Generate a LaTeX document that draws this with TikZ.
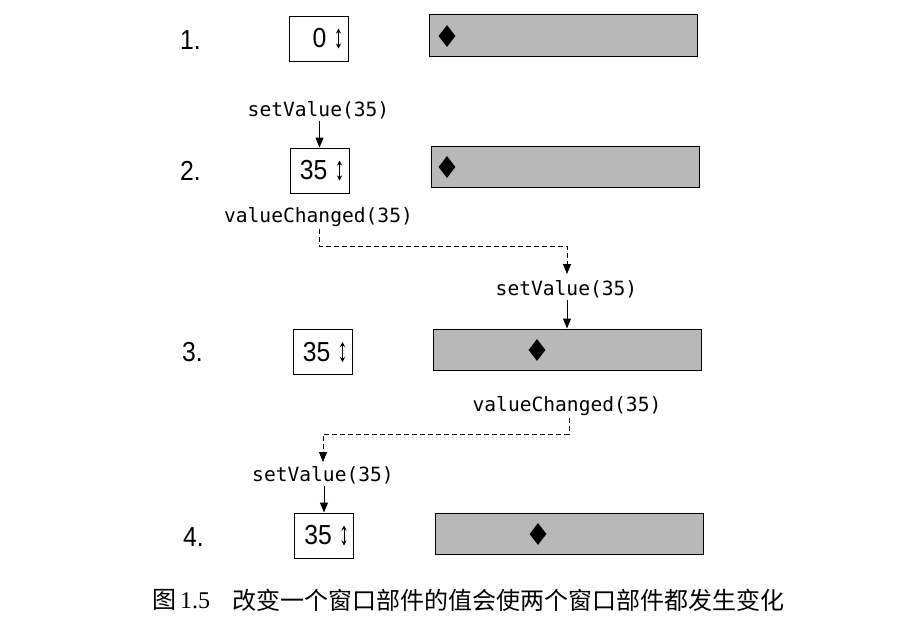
\documentclass[tikz,border=0pt]{standalone}
\usepackage{fontspec}
\setmainfont{Liberation Sans}
\setmonofont{DejaVu Sans Mono}
\newfontfamily\numfont[FakeStretch=0.9]{Liberation Sans}
\newfontfamily\cjk{Noto Sans CJK SC}
\newfontfamily\serifnum{Liberation Serif}
\usetikzlibrary{arrows.meta,shapes.geometric}
\begin{document}
\begin{tikzpicture}[x=1pt,y=-1pt,
  spin/.style={draw, line width=1pt, minimum width=59pt, minimum height=45pt, inner sep=0, fill=white},
  slider/.style={draw, line width=1pt, fill=black!28, minimum width=268pt, minimum height=41pt, inner sep=0},
  knob/.style={diamond, fill=black, inner sep=0, minimum width=17pt, minimum height=22pt},
  num/.style={font=\numfont\fontsize{27.5}{27.5}\selectfont, inner sep=0},
  msg/.style={font=\ttfamily\fontsize{19.6}{20}\selectfont, inner sep=2pt},
  arr/.style={line width=1pt, -{Triangle[length=10pt,width=8pt]}},
  darr/.style={arr, dash pattern=on 5pt off 3pt},
  updown/.style={line width=0.8pt, {Stealth[length=5pt,width=5pt]}-{Stealth[length=5pt,width=5pt]}}]
\path[fill=white] (0,0) rectangle (900,622);
\useasboundingbox (0,0) rectangle (900,622);

% row labels
\node[num, anchor=west] (l1) at (180,40) {1.};
\node[num, anchor=west] (l2) at (180,171) {2.};
\node[num, anchor=west] (l3) at (182,352) {3.};
\node[num, anchor=west] (l4) at (183,537) {4.};

% spin boxes
\node[spin] (s1) at (318.5,38.5) {};
\node[spin] (s2) at (319.5,170.5) {};
\node[spin] (s3) at (322.5,352) {};
\node[spin] (s4) at (324,535.5) {};
\node[num, anchor=east] (v1) at ([xshift=-22pt]s1.east) {0};
\node[num, anchor=east] (v2) at ([xshift=-22pt]s2.east) {35};
\node[num, anchor=east] (v3) at ([xshift=-22pt]s3.east) {35};
\node[num, anchor=east] (v4) at ([xshift=-22pt]s4.east) {35};
\foreach \s in {s1,s2,s3,s4}{
  \draw[updown] ([xshift=-10pt,yshift=-10pt]\s.east) -- ([xshift=-10pt,yshift=10pt]\s.east);
}

% sliders
\node[slider, minimum height=42pt] (sl1) at (563,35) {};
\node[slider] (sl2) at (565,166.5) {};
\node[slider] (sl3) at (567,349.5) {};
\node[slider] (sl4) at (569.5,533.5) {};
\node[knob] (k1) at (447,36) {};
\node[knob] (k2) at (447,167) {};
\node[knob] (k3) at (537,350) {};
\node[knob] (k4) at (538,534) {};

% messages
\node[msg] (sv2) at (318.5,110) {setValue(35)};
\node[msg] (vc1) at (318.5,217) {valueChanged(35)};
\node[msg] (sv3) at (566.5,289) {setValue(35)};
\node[msg] (vc2) at (567,406) {valueChanged(35)};
\node[msg] (sv4) at (323,475) {setValue(35)};

\coordinate (c1) at (567,246);
\coordinate (c2) at (323,434);

% connectors
\draw[arr] (s2.north |- sv2.south) -- (s2.north);
\draw[darr] (vc1.south -| s2.north) |- (c1) -- ([yshift=4pt]c1 |- sv3.north);
\draw[arr] (sl3.north |- sv3.south) -- (sl3.north);
\draw[darr] ([xshift=2pt]vc2.south) |- (c2) -- ([yshift=2pt]c2 |- sv4.north);
\draw[arr] (s4.north |- sv4.south) -- (s4.north);

% caption
\node[anchor=west, inner sep=0, font=\cjk\fontsize{24}{24}\selectfont] (cap1) at (152,600) {图\,{\serifnum 1.5}};
\node[anchor=west, inner sep=0, font=\cjk\fontsize{24}{24}\selectfont] (cap2) at (232,600) {改变一个窗口部件的值会使两个窗口部件都发生变化};
\end{tikzpicture}
\end{document}
